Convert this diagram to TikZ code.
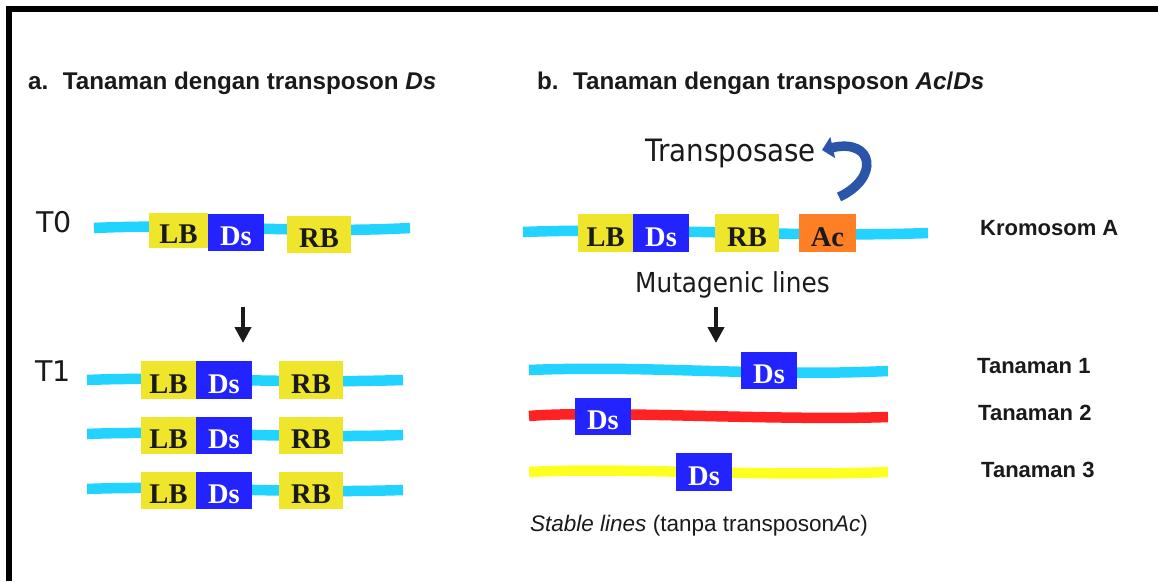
\documentclass[tikz,border=0pt]{standalone}
\usepackage{fontspec}
\setmainfont{Liberation Sans}
\newfontfamily\boxfamily{Liberation Serif}
\newfontfamily\plainfamily{DejaVu Sans}[FakeStretch=0.9]
\newfontfamily\genfamily{DejaVu Sans}
\usetikzlibrary{arrows.meta}

\definecolor{ybox}{HTML}{EFE52A}
\definecolor{bbox}{HTML}{2323FF}
\definecolor{obox}{HTML}{FF7F27}
\definecolor{cyanline}{HTML}{22D3FF}
\definecolor{redline}{HTML}{FF2222}
\definecolor{yline}{HTML}{FFFF22}
\definecolor{tpblue}{HTML}{2A55A8}
\definecolor{ink}{HTML}{1A1A1A}

\tikzset{
  chrom/.style={line width=10.5pt, line cap=butt},
  gene/.style={inner sep=0pt, text height=26pt, text depth=0pt,
    font=\boxfamily\bfseries\fontsize{28.5}{30}\selectfont},
  lbbox/.style={gene, fill=ybox, text=ink, minimum width=56pt, minimum height=37pt},
  rbbox/.style={gene, fill=ybox, text=ink, minimum width=64pt, minimum height=37pt},
  dsbox/.style={gene, fill=bbox, text=white, minimum width=56pt, minimum height=37pt},
  acbox/.style={gene, fill=obox, text=ink, minimum width=57pt, minimum height=37pt},
  title/.style={anchor=base west, inner sep=0pt, text=ink,
    font=\bfseries\fontsize{24.2}{26}\selectfont},
  rowlabel/.style={anchor=base west, inner sep=0pt, text=ink,
    font=\bfseries\fontsize{22}{24}\selectfont},
  plain/.style={anchor=base west, inner sep=0pt, text=ink,
    font=\plainfamily\fontsize{#1}{#1}\selectfont},
  genlabel/.style={anchor=base west, inner sep=0pt, text=ink,
    font=\genfamily\fontsize{28.5}{30}\selectfont},
  downarrow/.style={ink, line width=4.5pt,
    -{Triangle[width=16pt, length=16pt]}},
  tparrow/.style={tpblue, line width=9.5pt, line cap=butt,
    -{Triangle[width=21pt, length=11pt]}},
}

\begin{document}
\begin{tikzpicture}[x=1pt, y=-1pt]
\useasboundingbox (0,0) rectangle (1158,581);
\fill[white] (0,0) rectangle (1158,581);

% frame: top and left rules
\draw[black, line width=5.5pt, line join=miter] (8.75,581) -- (8.75,8.75) -- (1158,8.75);

% headings
\node[title] (ta) at (28,89) {a.\hspace{0.6em}Tanaman dengan transposon \textit{Ds}};
\node[title] (tb) at (537,89) {b.\hspace{0.6em}Tanaman dengan transposon \textit{Ac}/\textit{Ds}};

% generation labels
\node[genlabel] (t0) at (36,232) {T0};
\node[genlabel] (t1) at (35,381) {T1};

% ---------- panel a ----------
\draw[chrom, cyanline] (94,228) .. controls (200,223) and (300,234) .. (410,228);
\node[lbbox, minimum width=59pt, minimum height=35pt] (a0lb) at (178.5,230.5) {LB};
\node[dsbox, minimum height=37pt] (a0ds) at (236,232.5) {Ds};
\node[rbbox] (a0rb) at (319,234.5) {RB};

\coordinate (aarrowtop) at (243,307);
\coordinate (aarrowtip) at (243,343);
\draw[downarrow] (aarrowtop) -- (aarrowtip);

\draw[chrom, cyanline] (87,380) .. controls (180,376) and (280,384) .. (403,380);
\node[lbbox, minimum width=55pt, minimum height=38pt] (a1lb) at (168.5,380) {LB};
\node[dsbox, minimum height=38pt] (a1ds) at (224,380) {Ds};
\node[rbbox, minimum height=38pt] (a1rb) at (311,380) {RB};

\draw[chrom, cyanline] (87,434) .. controls (180,430) and (280,439) .. (403,435);
\node[lbbox, minimum width=55pt] (a2lb) at (168.5,435.5) {LB};
\node[dsbox] (a2ds) at (224,435.5) {Ds};
\node[rbbox] (a2rb) at (311,435.5) {RB};

\draw[chrom, cyanline] (87,489) .. controls (180,485) and (280,494) .. (403,490);
\node[lbbox, minimum width=55pt] (a3lb) at (168.5,490.5) {LB};
\node[dsbox] (a3ds) at (224,490.5) {Ds};
\node[rbbox] (a3rb) at (311,490.5) {RB};

% ---------- panel b ----------
\node[plain=30.8] (tpase) at (645,161) {Transposase};
\coordinate (tpstart) at (839,197);
\coordinate (tptip) at (822,150);
\draw[tparrow] (tpstart) .. controls (880,178) and (874,138) .. (tptip);

\draw[chrom, cyanline] (523,232) .. controls (650,227) and (800,238) .. (928,233);
\node[lbbox, minimum width=55pt, minimum height=38pt] (blb) at (605.5,233) {LB};
\node[dsbox, minimum height=38pt] (bds) at (661,233) {Ds};
\node[rbbox, minimum height=38pt] (brb) at (747,233) {RB};
\node[acbox, minimum height=38pt] (bac) at (827.5,233) {Ac};
\node[rowlabel] (krom) at (980,235) {Kromosom A};

\node[plain=27.5] (mutag) at (635,292) {Mutagenic lines};
\coordinate (barrowtop) at (716,307);
\coordinate (barrowtip) at (716,343);
\draw[downarrow] (barrowtop) -- (barrowtip);

\draw[chrom, cyanline] (529,370) .. controls (650,365) and (760,377) .. (888,371);
\node[dsbox] (p1ds) at (769,370.5) {Ds};
\node[rowlabel] (p1) at (977,373) {Tanaman 1};

\draw[chrom, redline] (529,416) .. controls (600,410) and (780,421) .. (888,417);
\node[dsbox] (p2ds) at (603,416.5) {Ds};
\node[rowlabel] (p2) at (978,420) {Tanaman 2};

\draw[chrom, yline] (529,472) .. controls (620,467) and (760,477) .. (888,472);
\node[dsbox, minimum height=38pt] (p3ds) at (704,472) {Ds};
\node[rowlabel] (p3) at (981,477) {Tanaman 3};

\node[anchor=base west, inner sep=0pt, text=ink, font=\fontsize{22.5}{24}\selectfont]
  (stable) at (530,531) {\textit{Stable lines} (tanpa transposon\textit{Ac})};
\end{tikzpicture}
\end{document}
